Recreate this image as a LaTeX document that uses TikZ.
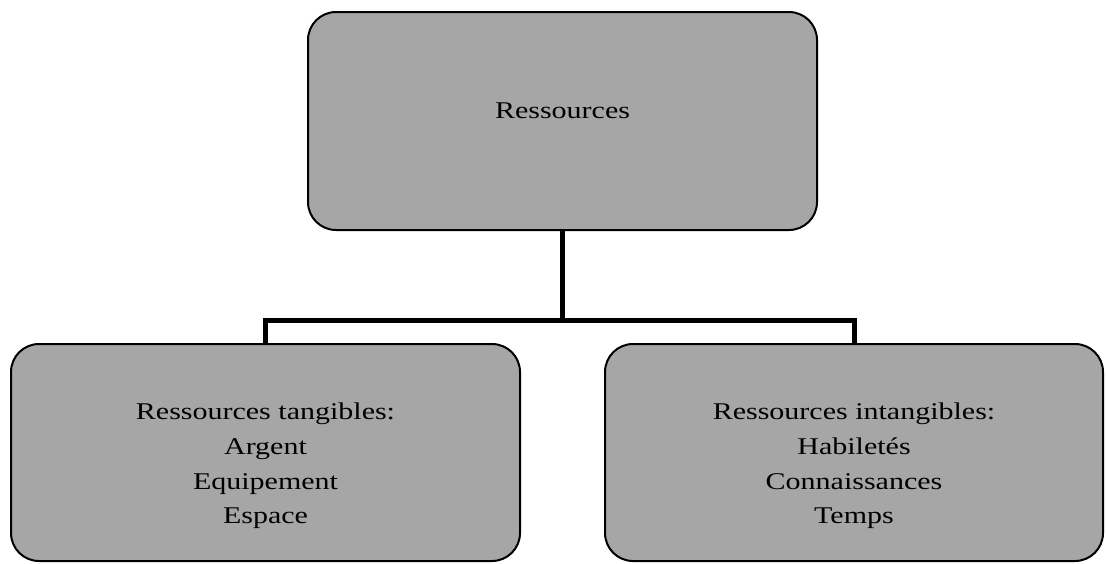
\documentclass[tikz,border=0pt]{standalone}
\usepackage{fontspec}
\setmainfont{Liberation Serif}[FakeStretch=1.25]
\usetikzlibrary{shapes, arrows}
\tikzstyle{resbox} = [rectangle, rounded corners=14pt, minimum width=254.5pt, minimum height=108.5pt, draw=black, line width=1pt, fill=black!35]
\tikzstyle{restext} = [align=center, inner sep=0pt, font=\fontsize{12pt}{17.4pt}\selectfont]
\tikzstyle{link} = [line width=2.5pt, draw=black]

\begin{document}
\begin{tikzpicture}[node distance=165.75pt]
    \useasboundingbox (0,0) rectangle (553pt,-281.5pt);
    \node (top) [resbox, minimum height=109pt] at (281.25pt,-60.5pt) {};
    \node (left) [resbox, below of=top, xshift=-148.5pt] {};
    \node (right) [resbox, below of=top, xshift=145.75pt, minimum width=249pt] {};
    \node (toptext) [restext] at ([yshift=5pt]top.center) {Ressources};
    \node (lefttext) [restext] at ([yshift=-6.75pt]left.center) {Ressources tangibles:\\Argent\\Equipement\\Espace};
    \node (righttext) [restext] at ([yshift=-6.75pt]right.center) {Ressources intangibles:\\Habiletés\\Connaissances\\Temps};
    \coordinate (bus) at ([yshift=-44.5pt]top.south);

    \draw [link] (top.south) -- (bus);
    \draw [link] (bus) -| (left.north);
    \draw [link] (bus) -| (right.north);
\end{tikzpicture}
\end{document}
